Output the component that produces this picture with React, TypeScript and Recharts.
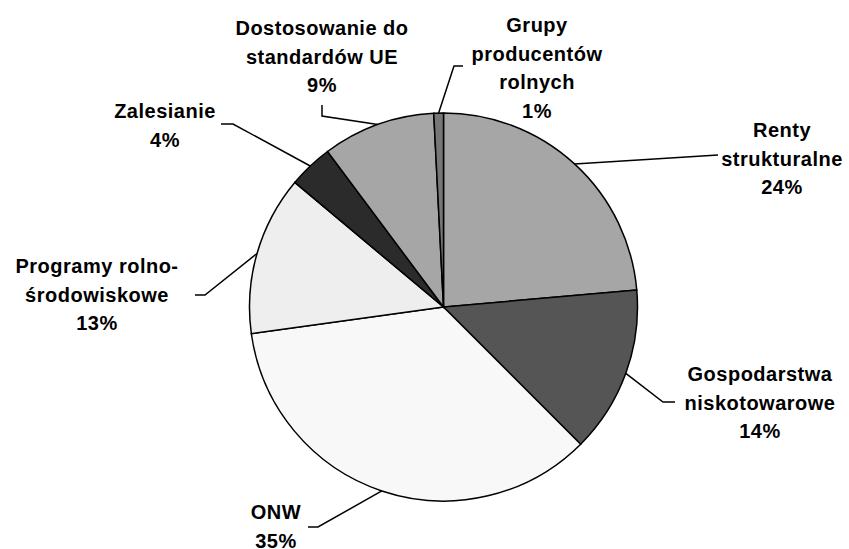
import React from "react";
import { PieChart, Pie, Cell } from "recharts";

// udział środków wg działań (%)
const names = [
    "Renty strukturalne",
    "Gospodarstwa niskotowarowe",
    "ONW",
    "Programy rolno-środowiskowe",
    "Zalesianie",
    "Dostosowanie do standardów UE",
    "Grupy producentów rolnych",
];
const values = [23.6, 13.9, 35.3, 13.3, 3.7, 9.4, 0.8];
const labelLines = [
    ["Renty", "strukturalne"],
    ["Gospodarstwa", "niskotowarowe"],
    ["ONW"],
    ["Programy rolno-", "środowiskowe"],
    ["Zalesianie"],
    ["Dostosowanie do", "standardów UE"],
    ["Grupy", "producentów", "rolnych"],
];

const colors = ["#a6a6a6", "#555555", "#f8f8f8", "#eeeeee", "#2b2b2b", "#a6a6a6", "#777777"];

// label placement: text centre x, first baseline y, leader elbow and end
const labelLayout = [
    { x: 782, y: 137, elbow: [718, 155], end: [718, 155] },
    { x: 760, y: 381, elbow: [663, 402], end: [675, 402] },
    { x: 276, y: 519, elbow: [318, 527], end: [308, 527] },
    { x: 97, y: 273, elbow: [205, 295], end: [195, 295] },
    { x: 165, y: 118, elbow: [233, 124], end: [221, 124] },
    { x: 322, y: 35, elbow: [322, 116], end: [322, 105] },
    { x: 537, y: 32, elbow: [454, 66], end: [463, 66] },
];

const data = names.map((name, i) => ({ name, value: values[i] }));

const RAD = Math.PI / 180;
const LINE_H = 28.5;

const renderLabel = (props: any) => {
    const { cx, cy, midAngle, outerRadius, index, percent } = props;
    const lay = labelLayout[index];
    const ax = cx + outerRadius * Math.cos(-midAngle * RAD);
    const ay = cy + outerRadius * Math.sin(-midAngle * RAD);
    const lines = [...labelLines[index], `${Math.round(percent * 100)}%`];
    return (
        <g key={`lbl-${index}`}>
            <polyline
                points={`${ax},${ay} ${lay.elbow[0]},${lay.elbow[1]} ${lay.end[0]},${lay.end[1]}`}
                fill="none"
                stroke="#000"
                strokeWidth={1.5}
            />
            <text
                x={lay.x}
                y={lay.y}
                textAnchor="middle"
                fill="#000"
                style={{
                    fontFamily: "'Liberation Sans', Arial, sans-serif",
                    fontWeight: "bold",
                    fontSize: 20,
                    letterSpacing: 0.5,
                }}
            >
                {lines.map((l, i) => (
                    <tspan key={i} x={lay.x} y={lay.y + i * LINE_H}>
                        {l}
                    </tspan>
                ))}
            </text>
        </g>
    );
};

const App: React.FC = () => {
    return (
        <div style={{ position: "absolute", left: 0, top: 0, width: 849, height: 549, background: "#fff" }}>
            <PieChart width={849} height={549} margin={{ top: 0, right: 0, bottom: 0, left: 0 }}>
                <Pie
                    data={data}
                    dataKey="value"
                    nameKey="name"
                    cx={443.5}
                    cy={307}
                    outerRadius={194}
                    startAngle={90}
                    endAngle={-270}
                    stroke="#000"
                    strokeWidth={1.5}
                    label={renderLabel}
                    labelLine={false}
                    isAnimationActive={false}
                >
                    {data.map((d, i) => (
                        <Cell key={d.name} fill={colors[i]} />
                    ))}
                </Pie>
            </PieChart>
        </div>
    );
};

export default App;
